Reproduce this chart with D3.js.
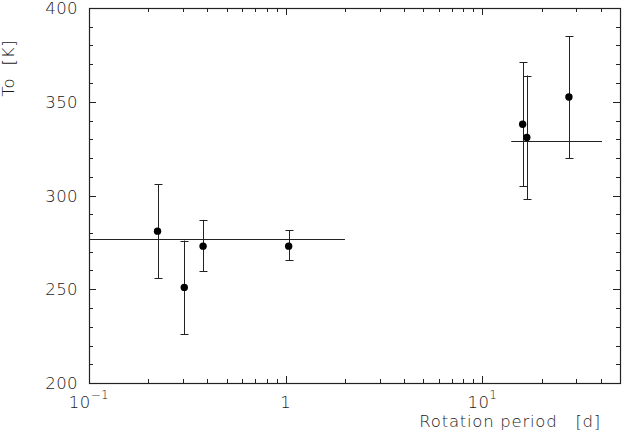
<!DOCTYPE html>
<html><head><meta charset="utf-8">
<script src="https://cdn.jsdelivr.net/npm/d3@7"></script>
<style>html,body{margin:0;padding:0;background:#fff;} svg{display:block;}</style>
</head><body>
<script>
// Data
const periods = [0.223, 0.305, 0.38, 1.035, 16.0, 16.8, 27.5];
const temps   = [281, 251, 273, 273, 338, 331, 352.5];
const upper   = [306, 276, 287, 281.5, 371, 364, 385];
const lower   = [256, 226, 259.5, 265.5, 305, 298, 320];
const fitLowX  = [0.1, 2.0];  const fitLowT  = 277;
const fitHighX = [14, 40.5];  const fitHighT = 329;
const xMajor = [0.1, 1, 10];
const xMinor = [0.2,0.3,0.4,0.5,0.6,0.7,0.8,0.9,2,3,4,5,6,7,8,9,20,30,40];
const yMajor = [200, 250, 300, 350, 400];
const yMinor = d3.range(200, 401, 10).filter(v => v % 50 !== 0);
const xLabels = [{v:0.1, base:"10", sup:"\u22121"}, {v:1, base:"1", sup:""}, {v:10, base:"10", sup:"1"}];

const W = 623, H = 432;
const m = {l:89, r:620, t:8, b:383};
const svg = d3.select("body").append("svg").attr("width", W).attr("height", H);
const x = d3.scaleLog().domain([0.1, 50]).range([m.l, m.r]);
const y = d3.scaleLinear().domain([200, 400]).range([m.b, m.t]);
const ink = "#222";
const txt = "#1a1a1a";
const font = "'DejaVu Sans', sans-serif";
const fw = 200;

// frame
svg.append("rect").attr("x", m.l + 0.5).attr("y", m.t + 0.5)
  .attr("width", m.r - m.l).attr("height", m.b - m.t)
  .attr("fill", "none").attr("stroke", ink).attr("stroke-width", 1.2);

// ticks
const g = svg.append("g").attr("stroke", ink).attr("stroke-width", 1);
function xt(vals, len){
  vals.forEach(v => {
    const px = Math.round(x(v)) + 0.5;
    g.append("line").attr("x1", px).attr("x2", px).attr("y1", m.b).attr("y2", m.b - len);
    g.append("line").attr("x1", px).attr("x2", px).attr("y1", m.t).attr("y2", m.t + len);
  });
}
function yt(vals, len){
  vals.forEach(v => {
    const py = Math.round(y(v)) + 0.5;
    g.append("line").attr("y1", py).attr("y2", py).attr("x1", m.l).attr("x2", m.l + len);
    g.append("line").attr("y1", py).attr("y2", py).attr("x1", m.r).attr("x2", m.r - len);
  });
}
xt(xMajor, 7); xt(xMinor, 4); yt(yMajor, 7); yt(yMinor, 4);

function styleText(s, fs){ return s.attr("font-family", font).attr("font-weight", fw).attr("font-size", fs || 16).attr("fill", txt); }

// y tick labels
styleText(svg.append("g").selectAll("text").data(yMajor).join("text")
  .attr("x", 78).attr("y", d => y(d) + 6)
  .attr("text-anchor", "end"), 16.5).attr("letter-spacing", 0.4).text(d => d);

// x tick labels
const xl = styleText(svg.append("g").selectAll("text").data(xLabels).join("text")
  .attr("x", d => x(d.v)).attr("y", 408)
  .attr("text-anchor", "middle"), 16.5).attr("letter-spacing", 0.4);
xl.append("tspan").text(d => d.base);
xl.filter(d => d.sup).append("tspan").attr("dy", -9).attr("font-size", 12).text(d => d.sup);

// axis labels
styleText(svg.append("text").attr("x", 601).attr("y", 427).attr("text-anchor", "end"), 16.5)
  .attr("letter-spacing", 0.75)
  .text("Rotation period\u00a0\u00a0\u00a0[d]");
styleText(svg.append("text").attr("transform", "translate(14,68) rotate(-90)").attr("text-anchor", "middle"), 16.5)
  .attr("letter-spacing", 0.8)
  .text("To\u00a0\u00a0[K]");

// fit lines
svg.append("line").attr("x1", x(fitLowX[0])).attr("x2", x(fitLowX[1]))
  .attr("y1", Math.round(y(fitLowT)) + 0.5).attr("y2", Math.round(y(fitLowT)) + 0.5)
  .attr("stroke", ink).attr("stroke-width", 1);
svg.append("line").attr("x1", x(fitHighX[0])).attr("x2", x(fitHighX[1]))
  .attr("y1", Math.round(y(fitHighT)) + 0.5).attr("y2", Math.round(y(fitHighT)) + 0.5)
  .attr("stroke", ink).attr("stroke-width", 1);

// error bars
const pts = periods.map((p, i) => ({p, t: temps[i], hi: upper[i], lo: lower[i]}));
const eb = svg.append("g").attr("stroke", ink).attr("stroke-width", 1);
pts.forEach(d => {
  const px = Math.round(x(d.p)) + 0.5;
  eb.append("line").attr("x1", px).attr("x2", px).attr("y1", y(d.hi)).attr("y2", y(d.lo));
  [d.hi, d.lo].forEach(v => {
    const py = Math.round(y(v)) + 0.5;
    eb.append("line").attr("x1", px - 4).attr("x2", px + 4).attr("y1", py).attr("y2", py);
  });
});
svg.append("g").selectAll("circle").data(pts).join("circle")
  .attr("cx", d => x(d.p)).attr("cy", d => y(d.t)).attr("r", 3.7).attr("fill", "#000");
</script>
</body></html>
